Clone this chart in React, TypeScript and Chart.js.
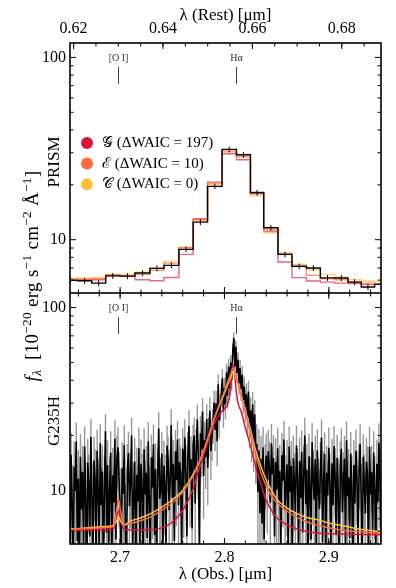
import React, { useEffect, useRef } from 'react';
import { Chart, registerables } from 'chart.js';
Chart.register(...registerables);

const SERIF = '"Liberation Serif", "DejaVu Serif", serif';

// ---------- axes ----------
const onePlusZ = 4.283;
const obsMin = 2.652;
const obsMax = 2.95;
const fluxMin = 5.1;
const fluxMax = 120;
const restTickLabels = [0.62, 0.64, 0.66, 0.68];
const obsTickLabels = [2.7, 2.8, 2.9];
const fluxTickLabels = [10, 100];
const fluxMinorTicks = [6, 7, 8, 9, 20, 30, 40, 50, 60, 70, 80, 90];

// ---------- models / legend ----------
const modelSymbols = ['\u{1D4A2}', '\u2130', '\u{1D49E}'];
const modelDeltaWaic = [197, 10, 0];
const modelColors = ['#dc143c', '#ff6a3d', '#ffc13b'];

// ---------- emission lines ----------
const lineNames = ['[O I]', 'H\u03b1'];
const lineRestWave = [0.63003, 0.65628];

// ---------- PRISM (top panel) ----------
const prismEdges = [2.6458, 2.6592, 2.6728, 2.6862, 2.6998, 2.7142, 2.7286, 2.742, 2.7563, 2.77, 2.7838, 2.7977, 2.8115, 2.8249, 2.8376, 2.8513, 2.8647, 2.8785, 2.8919, 2.9056, 2.9183, 2.9311, 2.9439, 2.9573];
const prismFlux = [5.98, 5.95, 5.78, 6.33, 6.31, 6.56, 6.96, 7.23, 8.85, 12.49, 19.61, 31.29, 29.26, 18.11, 11.64, 8.31, 7.14, 6.99, 6.17, 6.16, 5.85, 5.5, 5.69];
const prismErr = [0.22, 0.22, 0.22, 0.24, 0.24, 0.25, 0.26, 0.27, 0.32, 0.45, 0.7, 1.1, 1.05, 0.65, 0.42, 0.3, 0.26, 0.26, 0.23, 0.23, 0.22, 0.21, 0.22];
const prismModelG = [6.03, 6.03, 6.03, 6.38, 6.3, 6.03, 5.95, 6.2, 8.31, 13.04, 20.7, 29.64, 27.47, 18.24, 11.1, 7.54, 6.19, 5.93, 5.85, 5.78, 5.74, 5.69, 5.69];
const prismModelE = [6.08, 6.08, 6.11, 6.4, 6.3, 6.45, 6.79, 7.44, 9.04, 12.87, 20.44, 30.62, 28.64, 17.88, 11.35, 8.44, 7.23, 6.37, 6.11, 6.03, 5.85, 5.78, 5.74];
const prismModelC = [6.15, 6.15, 6.2, 6.45, 6.45, 6.64, 7.02, 7.63, 9.11, 12.76, 20.1, 30.24, 28.39, 17.43, 10.96, 8.36, 7.32, 6.84, 6.45, 6.23, 6.03, 5.93, 5.85];

// ---------- G235H (bottom panel) ----------
const g235Start = 2.651;
const g235Step = 0.001;
const g235Flux = [
  12.4, 4.2, 15.7, 8.8, 3.1, 13.5, 10.0, 18.5, 5.3, 11.6,
  3.5, 15.3, 7.9, 12.6, 4.6, 17.4, 9.4, 2.8, 14.2, 10.8,
  5.6, 19.6, 9.0, 3.9, 14.6, 11.8, 4.4, 16.5, 9.8, 5.1,
  18.1, 8.3, 12.7, 3.3, 10.5, 21.1, 5.9, 13.8, 4.8, 10.3,
  16.1, 3.7, 12.1, 8.6, 19.2, 5.4, 15.0, 17.2, 11.3, 8.1,
  4.1, 13.3, 9.6, 17.7, 5.8, 2.9, 12.9, 16.0, 8.2, 11.2,
  20.0, 4.9, 9.2, 14.4, 3.6, 12.2, 8.7, 17.0, 5.2, 14.0,
  10.9, 3.2, 16.8, 9.5, 12.5, 5.5, 18.6, 8.5, 4.3, 15.2,
  10.4, 17.9, 5.7, 13.1, 3.8, 12.0, 21.8, 9.0, 10.1, 15.9,
  4.7, 13.7, 10.7, 5.0, 17.6, 14.7, 7.8, 11.7, 22.8, 9.1,
  13.9, 5.3, 16.4, 11.4, 19.0, 8.3, 14.3, 12.4, 4.5, 16.9,
  10.5, 19.5, 12.8, 5.6, 15.9, 22.5, 11.3, 14.8, 6.2, 17.9,
  20.0, 8.5, 16.6, 24.5, 13.9, 4.8, 20.6, 16.8, 27.0, 12.0,
  18.8, 15.2, 24.6, 13.3, 20.1, 27.3, 16.4, 19.5, 23.0, 30.2,
  21.4, 30.0, 18.6, 38.0, 24.2, 28.8, 33.5, 41.0, 27.0, 36.4,
  29.5, 44.2, 33.0, 47.5, 36.1, 50.0, 40.2, 58.0, 68.0, 47.5,
  61.0, 43.8, 52.0, 38.5, 46.6, 35.8, 42.9, 31.2, 37.0, 28.6,
  33.5, 25.1, 34.7, 22.0, 27.4, 19.3, 29.5, 17.6, 26.1, 15.9,
  18.0, 9.8, 16.6, 7.5, 14.9, 6.6, 17.2, 5.4, 12.9, 15.5,
  10.8, 16.4, 13.5, 8.6, 18.1, 12.3, 15.0, 5.6, 14.3, 10.1,
  17.0, 8.8, 12.8, 4.8, 15.6, 11.3, 19.0, 7.8, 10.6, 13.9,
  5.1, 17.4, 9.8, 13.6, 3.9, 15.0, 11.0, 7.5, 17.6, 12.0,
  4.4, 14.5, 9.1, 16.3, 5.9, 12.4, 20.0, 8.4, 13.0, 3.4,
  15.4, 10.3, 5.4, 18.4, 11.6, 8.9, 14.8, 4.6, 16.6, 10.0,
  7.9, 13.4, 19.5, 5.2, 11.4, 15.8, 3.7, 12.5, 9.4, 17.1,
  10.9, 4.9, 14.1, 8.3, 17.5, 12.1, 5.7, 15.1, 9.9, 3.3,
  13.6, 16.9, 7.6, 11.1, 14.9, 4.5, 18.8, 9.3, 11.8, 5.5,
  15.9, 10.5, 3.6, 13.8, 8.5, 16.5, 11.5, 5.0, 12.9, 18.0,
  9.0, 4.2, 15.3, 10.8, 7.5, 14.4, 12.4, 3.8, 17.3, 9.5,
  12.6, 5.8, 16.1, 10.4, 4.7, 14.0, 8.6, 18.3, 11.3, 5.3,
];
const g235ErrTypical = 5.0;

const modelWave = [2.652, 2.67, 2.685, 2.6935, 2.6968, 2.6985, 2.7002, 2.7035, 2.71, 2.72, 2.73, 2.74, 2.75, 2.76, 2.77, 2.775, 2.78, 2.785, 2.79, 2.795, 2.8, 2.803, 2.806, 2.808, 2.8095, 2.811, 2.813, 2.816, 2.82, 2.825, 2.83, 2.835, 2.84, 2.845, 2.85, 2.86, 2.87, 2.88, 2.89, 2.9, 2.915, 2.93, 2.95];
const modelG = [6.1, 6.08, 6.08, 6.15, 7.2, 7.75, 7.2, 6.1, 6.08, 6.08, 6.1, 6.25, 6.7, 7.8, 10.2, 12.8, 15.5, 19, 23, 26, 28, 29.5, 36, 49, 45, 36, 30, 27, 22, 17.5, 13.4, 10.8, 8.8, 7.8, 7.1, 6.5, 6.15, 5.95, 5.85, 5.8, 5.78, 5.75, 5.73];
const modelE = [6.15, 6.2, 6.25, 6.35, 7.9, 9.0, 7.9, 6.45, 6.6, 6.85, 7.2, 7.8, 8.6, 9.8, 12.0, 13.8, 16.5, 20, 24.5, 29.5, 35, 39, 43.5, 46.5, 45.5, 42.5, 38.5, 33, 27, 20.5, 15.5, 12.5, 10.6, 9.4, 8.6, 7.7, 7.1, 6.7, 6.45, 6.25, 6.05, 5.95, 5.85];
const modelC = [6.15, 6.25, 6.35, 6.45, 6.85, 7.2, 6.85, 6.5, 6.8, 7.1, 7.5, 8.1, 8.9, 10.0, 12.3, 14.0, 16.5, 20, 24.5, 29, 34, 37.5, 41.5, 44.5, 44, 41.5, 38, 33, 27.5, 21.5, 16.5, 13.5, 11.4, 10.0, 9.0, 8.0, 7.45, 7.1, 6.9, 6.65, 6.4, 6.15, 5.95];

// ---------- helpers ----------
const ticksBetween = (min: number, max: number, step: number) => {
  const out: number[] = [];
  for (let k = Math.ceil(min / step - 1e-9); k * step <= max + 1e-9; k++) out.push(+(k * step).toFixed(6));
  return out;
};
const stepPoints = (vals: number[]) =>
  vals.flatMap((v, i) => [{ x: prismEdges[i], y: v }, { x: prismEdges[i + 1], y: v }]);
const alpha = (hex: string, a: number) => {
  const n = parseInt(hex.slice(1), 16);
  return `rgba(${(n >> 16) & 255},${(n >> 8) & 255},${n & 255},${a})`;
};

const restMin = obsMin / onePlusZ;
const restMax = obsMax / onePlusZ;

const framePlugin = {
  id: 'frameTicks',
  afterDraw(chart: any, _a: any, opts: any) {
    const { ctx, chartArea: ca, scales } = chart;
    const xs = scales.x;
    const ys = scales.y;
    const topScale = scales[opts.topScale] || xs;
    const topMajor = opts.topScale === 'rest' ? restTickLabels : obsTickLabels;
    const topMinor = opts.topScale === 'rest' ? ticksBetween(restMin, restMax, 0.005) : ticksBetween(obsMin, obsMax, 0.02);
    const botMinor = ticksBetween(obsMin, obsMax, 0.02);
    ctx.save();
    ctx.strokeStyle = '#000';
    ctx.lineWidth = 1;
    const vx = (scale: any, vals: number[], len: number, y: number, dir: number) => {
      vals.forEach((v) => {
        const px = scale.getPixelForValue(v);
        if (px < ca.left - 0.5 || px > ca.right + 0.5) return;
        ctx.beginPath();
        ctx.moveTo(px, y);
        ctx.lineTo(px, y + dir * len);
        ctx.stroke();
      });
    };
    const hy = (vals: number[], len: number) => {
      vals.forEach((v) => {
        const py = ys.getPixelForValue(v);
        if (py < ca.top - 0.5 || py > ca.bottom + 0.5) return;
        ctx.beginPath();
        ctx.moveTo(ca.left, py);
        ctx.lineTo(ca.left + len, py);
        ctx.moveTo(ca.right, py);
        ctx.lineTo(ca.right - len, py);
        ctx.stroke();
      });
    };
    vx(topScale, topMajor, 6, ca.top, 1);
    vx(topScale, topMinor, 3.5, ca.top, 1);
    vx(xs, obsTickLabels, 6, ca.bottom, -1);
    vx(xs, botMinor, 3.5, ca.bottom, -1);
    hy(fluxTickLabels, 6);
    hy(fluxMinorTicks, 3.5);
    ctx.lineWidth = 1.6;
    ctx.strokeRect(ca.left, ca.top, ca.right - ca.left, ca.bottom - ca.top);
    ctx.restore();
  },
};

const markerPlugin = {
  id: 'lineMarkers',
  afterDraw(chart: any) {
    const { ctx, chartArea: ca, scales } = chart;
    ctx.save();
    ctx.fillStyle = '#333';
    ctx.strokeStyle = '#444';
    ctx.lineWidth = 1;
    ctx.font = `10px ${SERIF}`;
    ctx.textAlign = 'center';
    ctx.textBaseline = 'middle';
    lineRestWave.forEach((r, i) => {
      const px = Math.round(scales.x.getPixelForValue(r * onePlusZ)) + 0.5;
      ctx.fillText(lineNames[i], px, ca.top + 15);
      ctx.beginPath();
      ctx.moveTo(px, ca.top + 24);
      ctx.lineTo(px, ca.top + 41);
      ctx.stroke();
    });
    ctx.restore();
  },
};

function drawErr(chart: any, spec: any) {
  const { ctx, chartArea: ca, scales } = chart;
  ctx.save();
  ctx.beginPath();
  ctx.rect(ca.left, ca.top, ca.right - ca.left, ca.bottom - ca.top);
  ctx.clip();
  ctx.strokeStyle = spec.color;
  ctx.lineWidth = spec.width;
  spec.x.forEach((xv: number, i: number) => {
    const px = scales.x.getPixelForValue(xv);
    const lo = Math.max(spec.y[i] - spec.err[i], 0.5);
    const hi = spec.y[i] + spec.err[i];
    ctx.beginPath();
    ctx.moveTo(px, scales.y.getPixelForValue(lo));
    ctx.lineTo(px, scales.y.getPixelForValue(hi));
    ctx.stroke();
  });
  ctx.restore();
}

const errPlugin = {
  id: 'errBars',
  beforeDatasetsDraw(chart: any, _a: any, opts: any) {
    if (opts.under) drawErr(chart, opts.under);
  },
  afterDatasetsDraw(chart: any, _a: any, opts: any) {
    if (opts.over) drawErr(chart, opts.over);
  },
};

const legendPlugin = {
  id: 'modelLegend',
  afterDraw(chart: any) {
    const { ctx } = chart;
    ctx.save();
    ctx.textAlign = 'left';
    ctx.textBaseline = 'middle';
    ctx.font = `15px ${SERIF}`;
    modelSymbols.forEach((s, i) => {
      const y = 143 + i * 20.6;
      ctx.fillStyle = modelColors[i];
      ctx.beginPath();
      ctx.arc(87, y, 6, 0, Math.PI * 2);
      ctx.fill();
      ctx.fillStyle = '#000';
      ctx.fillText(`${s} (\u0394WAIC = ${modelDeltaWaic[i]})`, 102, y);
    });
    ctx.restore();
  },
};

const noPad = (s: any) => {
  s.paddingTop = 0;
  s.paddingBottom = 0;
  s.paddingLeft = 0;
  s.paddingRight = 0;
};

const yScale = () => ({
  type: 'logarithmic',
  position: 'left',
  min: fluxMin,
  max: fluxMax,
  grid: { display: false, drawTicks: false },
  border: { display: false },
  ticks: { color: '#000', font: { family: SERIF, size: 16 }, padding: 4, callback: (v: any) => String(v) },
  afterBuildTicks: (s: any) => {
    s.ticks = fluxTickLabels.map((v) => ({ value: v }));
  },
  afterFit: (s: any) => {
    s.width = 70;
    noPad(s);
  },
});

export default function App() {
  const topRef = useRef<HTMLCanvasElement>(null);
  const botRef = useRef<HTMLCanvasElement>(null);

  useEffect(() => {
    const line = (data: any[], color: string, width: number, order: number, extra: any = {}) => ({
      data,
      borderColor: color,
      borderWidth: width,
      pointRadius: 0,
      fill: false,
      order,
      ...extra,
    });

    const top = new Chart(topRef.current as HTMLCanvasElement, {
      type: 'line',
      data: {
        datasets: [
          line(stepPoints(prismFlux), '#000', 1.4, 0),
          line(stepPoints(prismModelE), alpha(modelColors[1], 0.75), 1.4, 1),
          line(stepPoints(prismModelC), alpha(modelColors[2], 0.75), 1.4, 2),
          line(stepPoints(prismModelG), alpha(modelColors[0], 0.65), 1.4, 3),
        ],
      },
      options: {
        animation: false,
        responsive: false,
        devicePixelRatio: 1,
        layout: { padding: { left: 0, right: 15, top: 0, bottom: 0 } },
        plugins: {
          legend: { display: false },
          tooltip: { enabled: false },
          frameTicks: { topScale: 'rest' },
          errBars: {
            over: {
              x: prismFlux.map((_, i) => (prismEdges[i] + prismEdges[i + 1]) / 2),
              y: prismFlux,
              err: prismErr,
              color: '#000',
              width: 1,
            },
          },
        },
        scales: {
          x: { type: 'linear', display: false, min: obsMin, max: obsMax },
          rest: {
            type: 'linear',
            position: 'top',
            min: restMin,
            max: restMax,
            grid: { display: false, drawTicks: false },
            border: { display: false },
            ticks: {
              color: '#000',
              font: { family: SERIF, size: 16 },
              padding: 5,
              maxRotation: 0,
              autoSkip: false,
              callback: (v: any) => Number(v).toFixed(2),
            },
            afterBuildTicks: (s: any) => {
              s.ticks = restTickLabels.map((v) => ({ value: v }));
            },
            afterFit: (s: any) => {
              s.height = 43;
              noPad(s);
            },
            title: {
              display: true,
              text: '\u03bb (Rest) [\u03bcm]',
              color: '#000',
              font: { family: SERIF, size: 17 },
              padding: { top: 5, bottom: 0 },
            },
          },
          y: yScale(),
        },
      } as any,
      plugins: [errPlugin, framePlugin, markerPlugin, legendPlugin],
    });

    const g235X = g235Flux.map((_, i) => g235Start + i * g235Step);
    const bot = new Chart(botRef.current as HTMLCanvasElement, {
      type: 'line',
      data: {
        datasets: [
          line(modelWave.map((x, i) => ({ x, y: modelE[i] })), modelColors[1], 1.5, 0, { cubicInterpolationMode: 'monotone' }),
          line(modelWave.map((x, i) => ({ x, y: modelC[i] })), modelColors[2], 1.5, 1, { cubicInterpolationMode: 'monotone' }),
          line(modelWave.map((x, i) => ({ x, y: modelG[i] })), modelColors[0], 1.5, 2, { cubicInterpolationMode: 'monotone' }),
          line(g235X.map((x, i) => ({ x, y: g235Flux[i] })), '#000', 1.6, 3),
        ],
      },
      options: {
        animation: false,
        responsive: false,
        devicePixelRatio: 1,
        layout: { padding: { left: 0, right: 15, top: 0, bottom: 0 } },
        plugins: {
          legend: { display: false },
          tooltip: { enabled: false },
          frameTicks: { topScale: 'x' },
          errBars: {
            under: {
              x: g235X,
              y: g235Flux,
              err: g235Flux.map(() => g235ErrTypical),
              color: 'rgba(140,140,140,0.9)',
              width: 1.4,
            },
          },
        },
        scales: {
          x: {
            type: 'linear',
            position: 'bottom',
            min: obsMin,
            max: obsMax,
            grid: { display: false, drawTicks: false },
            border: { display: false },
            ticks: {
              color: '#000',
              font: { family: SERIF, size: 16 },
              padding: 4,
              maxRotation: 0,
              autoSkip: false,
              callback: (v: any) => Number(v).toFixed(1),
            },
            afterBuildTicks: (s: any) => {
              s.ticks = obsTickLabels.map((v) => ({ value: v }));
            },
            afterFit: (s: any) => {
              s.height = 44;
              noPad(s);
            },
            title: {
              display: true,
              text: '\u03bb (Obs.) [\u03bcm]',
              color: '#000',
              font: { family: SERIF, size: 17 },
              padding: { top: 0, bottom: 3 },
            },
          },
          y: yScale(),
        },
      } as any,
      plugins: [errPlugin, framePlugin, markerPlugin],
    });

    return () => {
      top.destroy();
      bot.destroy();
    };
  }, []);

  const sup: React.CSSProperties = { fontSize: '0.7em', verticalAlign: '0.5em', lineHeight: 0 };
  const sub: React.CSSProperties = { fontSize: '0.7em', verticalAlign: '-0.25em', lineHeight: 0 };
  const rot = (x: number, y: number, size: number): React.CSSProperties => ({
    position: 'absolute',
    left: x,
    top: y,
    transform: 'translate(-50%, -50%) rotate(-90deg)',
    whiteSpace: 'nowrap',
    fontSize: size,
    lineHeight: 1,
    fontFamily: SERIF,
    color: '#000',
  });

  return (
    <div style={{ position: 'absolute', left: 0, top: 0, width: 396, height: 588, background: '#fff', fontFamily: SERIF }}>
      <canvas ref={topRef} width={396} height={293} style={{ position: 'absolute', left: 0, top: 0 }} />
      <canvas ref={botRef} width={396} height={295} style={{ position: 'absolute', left: 0, top: 293 }} />
      <div style={{ ...rot(31, 276, 19), letterSpacing: '0.3px' }}>
        <i>f</i>
        <sub style={sub}>
          <i>{'\u03bb'}</i>
        </sub>{'\u2002'}
        [10<sup style={sup}>{'\u221220'}</sup>
        {' '}erg{' '}s<sup style={sup}>{'\u22121'}</sup>
        {' '}cm<sup style={sup}>{'\u22122'}</sup>
        {' '}
        {'\u00c5'}
        <sup style={sup}>{'\u22121'}</sup>]
      </div>
      <div style={rot(53, 162, 17)}>PRISM</div>
      <div style={rot(53, 421, 17)}>G235H</div>
    </div>
  );
}
